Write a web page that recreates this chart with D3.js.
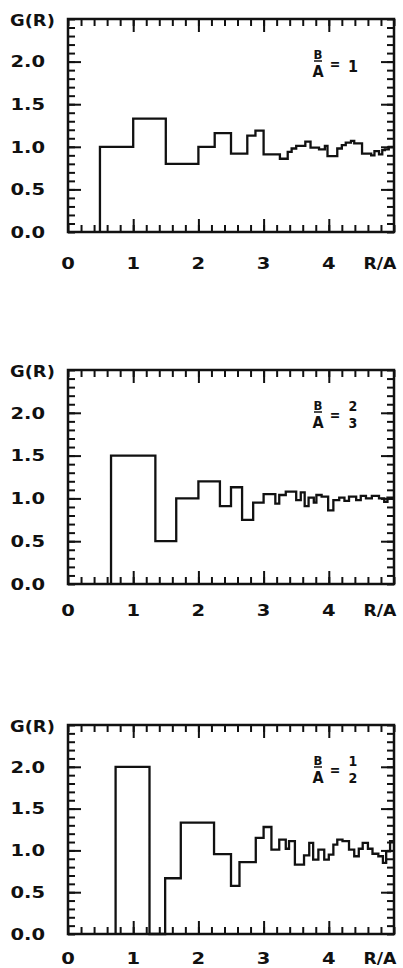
<!DOCTYPE html>
<html>
<head>
<meta charset="utf-8">
<script src="https://cdn.jsdelivr.net/npm/d3@7"></script>
<style>
  body { margin: 0; background: #fff; }
  svg { display: block; }
  .lbl { font-family: "DejaVu Sans", sans-serif; font-weight: bold; font-size: 16px; fill: #111; }
  .note { font-family: "DejaVu Sans Condensed", "Liberation Sans Narrow", sans-serif; font-weight: bold; fill: #111; }
  .tick line { stroke: #111; stroke-width: 2; }
</style>
</head>
<body>
<div id="plot"></div>
<script>
// pair distribution G(R) vs R/A, three size ratios B/A

const xTickLabels = ["0", "1", "2", "3", "4"];
const yTickValues = [0, 0.5, 1.0, 1.5, 2.0];

// B/A = 1
const edges1 = [0.49, 1.0, 1.5, 2.0, 2.25, 2.5, 2.75, 2.875, 3.0, 3.25, 3.37, 3.43, 3.5, 3.64, 3.72,
  3.85, 3.94, 3.98, 4.13, 4.2, 4.26, 4.34, 4.39, 4.51, 4.65, 4.70, 4.77, 4.82, 4.86, 4.92, 5.0];
const g1 = [1.0, 1.33, 0.8, 1.0, 1.16, 0.92, 1.13, 1.19, 0.91, 0.86, 0.94, 0.98, 1.01, 1.06,
  0.99, 0.97, 1.01, 0.89, 0.98, 1.02, 1.05, 1.07, 1.04, 0.92, 0.90, 0.95, 0.91, 0.96, 0.97, 1.0];

// B/A = 2/3
const edges2 = [0.66, 1.34, 1.66, 2.0, 2.33, 2.5, 2.67, 2.84, 3.0, 3.18, 3.24, 3.34, 3.5, 3.57, 3.63,
  3.69, 3.77, 3.81, 3.89, 3.99, 4.07, 4.16, 4.24, 4.31, 4.42, 4.49, 4.57, 4.66, 4.77, 4.85, 4.90, 5.0];
const g2 = [1.5, 0.5, 1.0, 1.2, 0.91, 1.13, 0.75, 0.95, 1.05, 0.94, 1.04, 1.08, 0.98, 1.07, 0.91,
  1.01, 0.95, 1.04, 1.02, 0.86, 0.98, 1.01, 0.97, 1.02, 0.98, 1.03, 1.0, 1.03, 1.0, 0.96, 1.01];

// B/A = 1/2
const edges3 = [0.73, 1.25, 1.49, 1.73, 2.24, 2.5, 2.63, 2.88, 3.0, 3.12, 3.24, 3.34, 3.39, 3.48,
  3.62, 3.70, 3.76, 3.84, 3.93, 4.0, 4.07, 4.13, 4.21, 4.31, 4.39, 4.46, 4.52, 4.6, 4.67, 4.76,
  4.83, 4.88, 4.94, 5.0];
const g3 = [2.0, 0.0, 0.667, 1.333, 0.956, 0.575, 0.86, 1.15, 1.28, 1.01, 1.13, 1.02, 1.11, 0.83,
  0.94, 1.09, 0.89, 1.01, 0.89, 0.95, 1.07, 1.13, 1.11, 1.01, 0.93, 1.02, 1.09, 1.02, 0.96, 0.93,
  0.85, 0.99, 1.11];

const ratioLabels = [["1"], ["2", "3"], ["1", "2"]];

const panels = [
  {edges: edges1, g: g1, ratio: ratioLabels[0], top: 19, bottom: 232, gap: 31},
  {edges: edges2, g: g2, ratio: ratioLabels[1], top: 370, bottom: 584, gap: 26},
  {edges: edges3, g: g3, ratio: ratioLabels[2], top: 725, bottom: 934, gap: 24}
];

const width = 403, height = 968;
const left = 68, right = 394;

const svg = d3.select("#plot").append("svg")
  .attr("width", width)
  .attr("height", height);

const x = d3.scaleLinear().domain([0, 5]).range([left, right]);
const minorX = d3.range(0, 5.001, 0.2).map(d => +d.toFixed(1));
const majorX = [1, 2, 3, 4];
const minorY = d3.range(0, 2.501, 0.1).map(d => +d.toFixed(1));
const majorY = [0.5, 1.0, 1.5, 2.0];

panels.forEach(function(p) {
  const y = d3.scaleLinear().domain([0, 2.5]).range([p.bottom, p.top]);
  const g = svg.append("g");

  // inward ticks on all four sides
  function ticks(axis, tr) {
    g.append("g").attr("transform", tr).call(axis).call(s => s.select(".domain").remove());
  }
  ticks(d3.axisBottom(x).tickValues(minorX).tickSize(-7).tickFormat(""), "translate(0," + p.bottom + ")");
  ticks(d3.axisBottom(x).tickValues(majorX).tickSize(-13).tickFormat(""), "translate(0," + p.bottom + ")");
  ticks(d3.axisTop(x).tickValues(minorX).tickSize(-7).tickFormat(""), "translate(0," + p.top + ")");
  ticks(d3.axisTop(x).tickValues(majorX).tickSize(-13).tickFormat(""), "translate(0," + p.top + ")");
  ticks(d3.axisLeft(y).tickValues(minorY).tickSize(-7).tickFormat(""), "translate(" + left + ",0)");
  ticks(d3.axisLeft(y).tickValues(majorY).tickSize(-13).tickFormat(""), "translate(" + left + ",0)");
  ticks(d3.axisRight(y).tickValues(minorY).tickSize(-7).tickFormat(""), "translate(" + right + ",0)");
  ticks(d3.axisRight(y).tickValues(majorY).tickSize(-13).tickFormat(""), "translate(" + right + ",0)");

  // frame
  g.append("rect")
    .attr("x", left).attr("y", p.top)
    .attr("width", right - left).attr("height", p.bottom - p.top)
    .attr("fill", "none").attr("stroke", "#111").attr("stroke-width", 2.5);

  // step curve
  const pts = [[p.edges[0], 0]];
  p.g.forEach((v, i) => pts.push([p.edges[i], v]));
  pts.push([p.edges[p.edges.length - 1], p.g[p.g.length - 1]]);
  const line = d3.line().x(d => x(d[0])).y(d => y(d[1])).curve(d3.curveStepAfter);
  g.append("path")
    .attr("d", line(pts))
    .attr("fill", "none").attr("stroke", "#111").attr("stroke-width", 2.3)
    .attr("stroke-linejoin", "miter");

  // y tick labels
  g.selectAll(".ylab").data(yTickValues).enter().append("text")
    .attr("class", "lbl")
    .attr("text-anchor", "end")
    .attr("dy", "0.36em")
    .attr("transform", d => "translate(45," + y(d) + ") scale(1.22,1)")
    .text(d => d3.format(".1f")(d));

  // x tick labels
  g.selectAll(".xlab").data(xTickLabels).enter().append("text")
    .attr("class", "lbl")
    .attr("text-anchor", "middle")
    .attr("dy", "0.36em")
    .attr("transform", (d, i) => "translate(" + x(i) + "," + (p.bottom + p.gap) + ") scale(1.22,1)")
    .text(d => d);

  g.append("text").attr("class", "lbl")
    .attr("text-anchor", "middle").attr("dy", "0.36em")
    .attr("transform", "translate(380," + (p.bottom + p.gap) + ") scale(1.08,1)")
    .text("R/A");

  g.append("text").attr("class", "lbl")
    .attr("dy", "0.36em")
    .attr("transform", "translate(10," + (p.top + 1) + ") scale(1.12,1)")
    .text("G(R)");

  // B/A annotation
  const n = g.append("g").attr("class", "note");
  n.append("text").attr("x", 318).attr("y", p.top + 40).attr("text-anchor", "middle")
    .style("font-size", "13px").text("B");
  n.append("line").attr("x1", 314).attr("x2", 322)
    .attr("y1", p.top + 42).attr("y2", p.top + 42).attr("stroke", "#111").attr("stroke-width", 1.5);
  n.append("text").attr("x", 318).attr("y", p.top + 58).attr("text-anchor", "middle")
    .style("font-size", "16px").text("A");
  n.append("text").attr("x", 335).attr("y", p.top + 50).attr("text-anchor", "middle")
    .style("font-size", "14px").text("=");
  if (p.ratio.length === 1) {
    n.append("text").attr("x", 353).attr("y", p.top + 53).attr("text-anchor", "middle")
      .style("font-size", "16px").text(p.ratio[0]);
  } else {
    n.append("text").attr("x", 353).attr("y", p.top + 41).attr("text-anchor", "middle")
      .style("font-size", "14px").text(p.ratio[0]);
    n.append("text").attr("x", 353).attr("y", p.top + 58).attr("text-anchor", "middle")
      .style("font-size", "14px").text(p.ratio[1]);
  }
});
</script>
</body>
</html>
